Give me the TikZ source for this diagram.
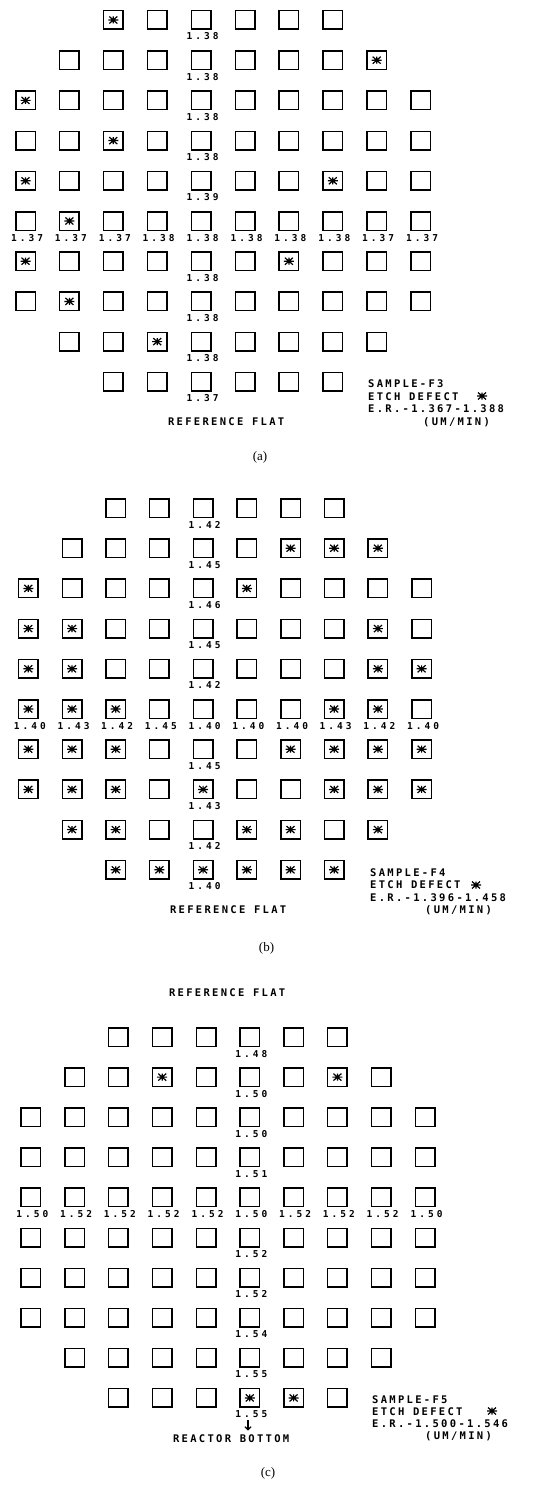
\documentclass[tikz,border=0pt]{standalone}
\usepackage{fontspec}
\usepackage{graphicx}
\usetikzlibrary{arrows.meta}
\newfontfamily\plotfont[LetterSpace=22]{DejaVu Sans Mono}
\newfontfamily\numfont[LetterSpace=32]{DejaVu Sans Mono}
\newfontfamily\capfont{Liberation Serif}

\tikzset{
  sq/.style={draw, line width=1.5pt, minimum width=19.5pt, minimum height=18.5pt, inner sep=0pt},
  lbl/.style={font=\numfont\bfseries\fontsize{9.5}{10}\selectfont, anchor=base, inner sep=0pt, xshift=1.5pt},
  leg/.style={font=\plotfont\bfseries\fontsize{10.5}{12}\selectfont, anchor=base west, inner sep=0pt},
  reftxt/.style={font=\plotfont\bfseries\fontsize{10.5}{12}\selectfont, anchor=base, inner sep=0pt, xshift=1.2pt},
  captxt/.style={font=\capfont\fontsize{13}{15}\selectfont, inner sep=0pt},
  defect/.pic={\draw[line width=1.2pt] (-5,0)--(5,0) (-4,-3.5)--(4,3.5) (-4,3.5)--(4,-3.5) (0,-3.5)--(0,3.5);}
}

% #1 prefix, #2 x of column 1, #3 y of row 1, #4 dx, #5 dy
\newcommand\wafergrid[5]{%
  \foreach \r/\a/\b in {1/3/8,2/2/9,3/1/10,4/1/10,5/1/10,6/1/10,7/1/10,8/1/10,9/2/9,10/3/8}{
    \foreach \c in {\a,...,\b}{
      \node[sq] (#1-\r-\c) at ({#2+(\c-1)*#4},{#3+(\r-1)*#5}) {};
    }
  }%
}
% #1 prefix, #2 column, #3 list row/value
\newcommand\collabels[3]{%
  \foreach \r/\v in {#3}{
    \node[lbl] (#1-l-\r) at ([yshift=-10pt]#1-\r-#2.south) {\v};
  }%
}
% #1 prefix, #2 row, #3 list col/value
\newcommand\rowlabels[3]{%
  \foreach \c/\v in {#3}{
    \node[lbl] (#1-m-\c) at ([yshift=-10pt]#1-#2-\c.south) {\v};
  }%
}

\begin{document}
\begin{tikzpicture}[x=1pt,y=-1pt]
\fill[white] (0,0) rectangle (544,1485);
\useasboundingbox (0,0) rectangle (544,1485);

% ---------------- panel (a)
\wafergrid{a}{25.5}{20}{43.9}{40.2}
\foreach \r/\c in {1/3,2/9,3/1,4/3,5/1,5/8,6/2,7/1,7/7,8/2,9/4}{\pic at (a-\r-\c) {defect};}
\collabels{a}{5}{1/1.38,2/1.38,3/1.38,4/1.38,5/1.39,7/1.38,8/1.38,9/1.38,10/1.37}
\rowlabels{a}{6}{1/1.37,2/1.37,3/1.37,4/1.38,5/1.38,6/1.38,7/1.38,8/1.38,9/1.37,10/1.37}
\node[reftxt] (a-ref) at (225,425.5) {REFERENCE FLAT};
\node[leg] (a-s1) at (368,387.8) {SAMPLE-F3};
\node[leg] (a-s2) at (368,400.2) {ETCH DEFECT};
\pic at (482,396) {defect};
\node[leg] (a-s3) at (368,412.6) {E.R.-1.367-1.388};
\node[leg] (a-s4) at (423,425) {(UM/MIN)};
\node[captxt] (a-cap) at (260,457) {(a)};

% ---------------- panel (b)
\wafergrid{b}{28.3}{508}{43.7}{40.2}
\foreach \r/\c in {2/7,2/8,2/9,3/1,3/6,4/1,4/2,4/9,5/1,5/2,5/9,5/10,6/1,6/2,6/3,6/8,6/9,7/1,7/2,7/3,7/7,7/8,7/9,7/10,8/1,8/2,8/3,8/5,8/8,8/9,8/10,9/2,9/3,9/6,9/7,9/9,10/3,10/4,10/5,10/6,10/7,10/8}{\pic at (b-\r-\c) {defect};}
\collabels{b}{5}{1/1.42,2/1.45,3/1.46,4/1.45,5/1.42,7/1.45,8/1.43,9/1.42,10/1.40}
\rowlabels{b}{6}{1/1.40,2/1.43,3/1.42,4/1.45,5/1.40,6/1.40,7/1.40,8/1.43,9/1.42,10/1.40}
\node[reftxt] (b-ref) at (227,913.5) {REFERENCE FLAT};
\node[leg] (b-s1) at (370,876.5) {SAMPLE-F4};
\node[leg] (b-s2) at (370,888.9) {ETCH DEFECT};
\pic at (476,885) {defect};
\node[leg] (b-s3) at (370,901.3) {E.R.-1.396-1.458};
\node[leg] (b-s4) at (425,913.7) {(UM/MIN)};
\node[captxt] (b-cap) at (266.5,948) {(b)};

% ---------------- panel (c)
\node[reftxt] (c-ref) at (226,996.5) {REFERENCE FLAT};
\wafergrid{c}{30.8}{1037}{43.8}{40.1}
\foreach \r/\c in {2/4,2/8,10/6,10/7}{\pic at (c-\r-\c) {defect};}
\collabels{c}{6}{1/1.48,2/1.50,3/1.50,4/1.51,6/1.52,7/1.52,8/1.54,9/1.55,10/1.55}
\rowlabels{c}{5}{1/1.50,2/1.52,3/1.52,4/1.52,5/1.52,6/1.50,7/1.52,8/1.52,9/1.52,10/1.50}
\coordinate (c-at) at (248,1420);
\coordinate (c-ab) at (248,1430.5);
\draw[line width=1.1pt, -{Straight Barb[length=3pt,width=6pt]}] (c-at) -- (c-ab);
\node[reftxt] (c-rb) at (230,1442) {REACTOR BOTTOM};
\node[leg] (c-s1) at (372,1403.5) {SAMPLE-F5};
\node[leg] (c-s2) at (372,1415.5) {ETCH DEFECT};
\pic at (492,1411) {defect};
\node[leg] (c-s3) at (372,1427.5) {E.R.-1.500-1.546};
\node[leg] (c-s4) at (425,1439.5) {(UM/MIN)};
\node[captxt] (c-cap) at (268,1473) {(c)};
\end{tikzpicture}
\end{document}
